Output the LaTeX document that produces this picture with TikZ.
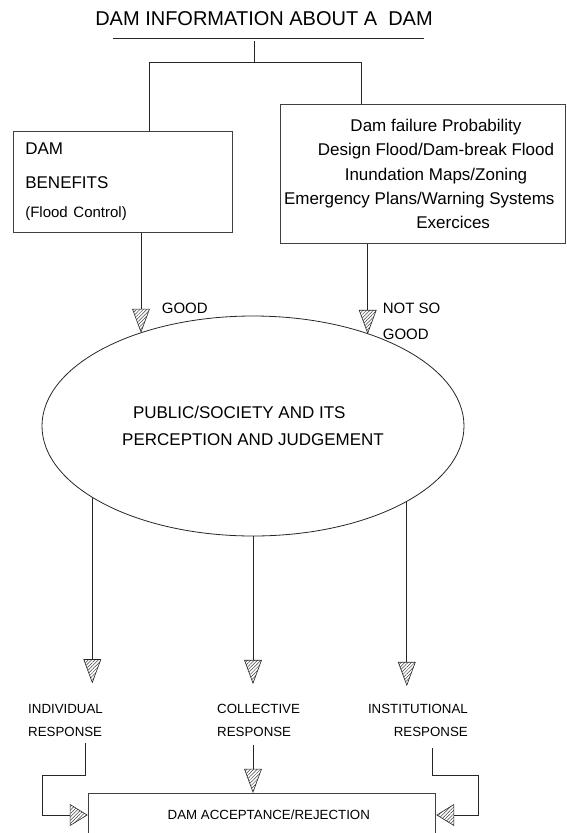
\documentclass[tikz,border=0pt]{standalone}
\usepackage{fontspec}
\setmainfont{Liberation Sans}
\usetikzlibrary{shapes.geometric, patterns.meta}

\begin{document}
\begin{tikzpicture}[
    x=1pt, y=-1pt,
    box/.style={rectangle, draw=black!75, line width=0.9pt, inner sep=0pt},
    txt/.style={inner sep=0pt, font=\fontsize{17}{20.4}\selectfont},
    small/.style={inner sep=0pt, font=\fontsize{15}{18}\selectfont},
    tiny/.style={inner sep=0pt, font=\fontsize{13.3}{16}\selectfont},
    line/.style={draw=black!85, line width=0.8pt},
    hatch/.style={isosceles triangle, isosceles triangle stretches, draw=black!85, line width=0.6pt, inner sep=0pt, anchor=apex, pattern={Lines[angle=45, distance=2.4pt, line width=0.5pt]}, pattern color=black!75},
    down/.style={hatch, shape border rotate=270, minimum width=17pt, minimum height=23pt},
    side/.style={hatch, minimum width=21pt, minimum height=17pt},
]
    \useasboundingbox (0,0) rectangle (566,833);

    % top: information and the two boxes
    \node[inner sep=0pt, font=\fontsize{20}{24}\selectfont] (title) at (264,19) {DAM INFORMATION ABOUT A\ \ DAM};
    \coordinate (ulA) at (112.7,38.3);
    \coordinate (ulB) at (424,38.3);
    \coordinate (stem) at (254.3,41);
    \coordinate (fork) at (254.3,62);

    \node[box, minimum width=219pt, minimum height=100.6pt, text width=195.8pt, align=left, font=\fontsize{17}{20.4}\selectfont] (benefit) at (123.2,182)
        {DAM\\[13.6pt]BENEFITS\\[9pt]{\fontsize{15}{18}\selectfont (Flood Control)}\par\vspace{5pt}};
    \node[box, minimum width=285.7pt, minimum height=139.3pt] (risk) at (422.85,173.65) {};
    \node[txt, align=center] (risktext) at (436,174)
        {Dam failure Probability\\[3.8pt]Design Flood/Dam-break Flood\\[3.8pt]Inundation Maps/Zoning\\[3.8pt]\makebox[304pt][l]{Emergency Plans/Warning Systems}\\[3.8pt]\makebox[108pt][r]{Exercices}};

    \draw[line] (ulA) -- (ulB);
    \draw[line] (stem) -- (fork);
    \draw[line] (fork) -| ([xshift=25.8pt]benefit.north);
    \draw[line] (fork) -| ([xshift=-61.2pt]risk.north);

    % public perception
    \node[ellipse, draw=black!85, line width=0.8pt, inner sep=0pt, minimum width=422pt, minimum height=220pt, align=center, font=\fontsize{17}{20.4}\selectfont] (public) at (253,426)
        {\makebox[240pt][l]{PUBLIC/SOCIETY AND ITS}\\[7.3pt]PERCEPTION AND JUDGEMENT};

    \node[down] (goodhead) at (141,332.7) {};
    \node[down] (badhead) at (367.7,334) {};
    \draw[line] (benefit.south -| goodhead.apex) -- (goodhead.lower side);
    \draw[line] (risk.south -| badhead.apex) -- (badhead.lower side);
    \node[small, anchor=west] (goodlbl) at (161.7,308.3) {GOOD};
    \node[small, anchor=west, align=left] (badlbl) at (382.7,321) {NOT SO\\[8pt]GOOD};

    % responses
    \node[down] (indhead) at (92.3,683.3) {};
    \node[down] (colhead) at (253,684) {};
    \node[down] (insthead) at (406.8,686) {};
    \draw[line] (indhead.lower side |- public.204) -- (indhead.lower side);
    \draw[line] (public.south) -- (colhead.lower side);
    \draw[line] (insthead.lower side |- public.334) -- (insthead.lower side);

    \node[tiny, anchor=west, align=left] (indiv) at (28,720.5) {INDIVIDUAL\\[7pt]RESPONSE};
    \node[tiny, anchor=west, align=left] (collect) at (217,720.5) {COLLECTIVE\\[7pt]RESPONSE};
    \node[tiny, anchor=east, align=right] (instit) at (468,720.5) {INSTITUTIONAL\\[7pt]RESPONSE};

    % acceptance
    \node[box, tiny, minimum width=347.3pt, minimum height=43.4pt] (accept) at (262,815) {\hspace*{13.6pt}DAM ACCEPTANCE/REJECTION};
    \node[side, shape border rotate=0] (lefthead) at (accept.west) {};
    \node[side, shape border rotate=180] (righthead) at (accept.east) {};
    \node[down] (tophead) at (accept.north -| colhead) {};

    \coordinate (indstart) at (85.6,743);
    \coordinate (indbend) at (42.6,775);
    \coordinate (inststart) at (432.5,748);
    \coordinate (instbend) at (478,775);
    \draw[line] (indstart) |- (indbend) |- (lefthead.lower side);
    \draw[line] (inststart) |- (instbend) |- (righthead.lower side);
    \draw[line, shorten <=8pt] (tophead.lower side |- collect.south) -- (tophead.lower side);
\end{tikzpicture}
\end{document}
